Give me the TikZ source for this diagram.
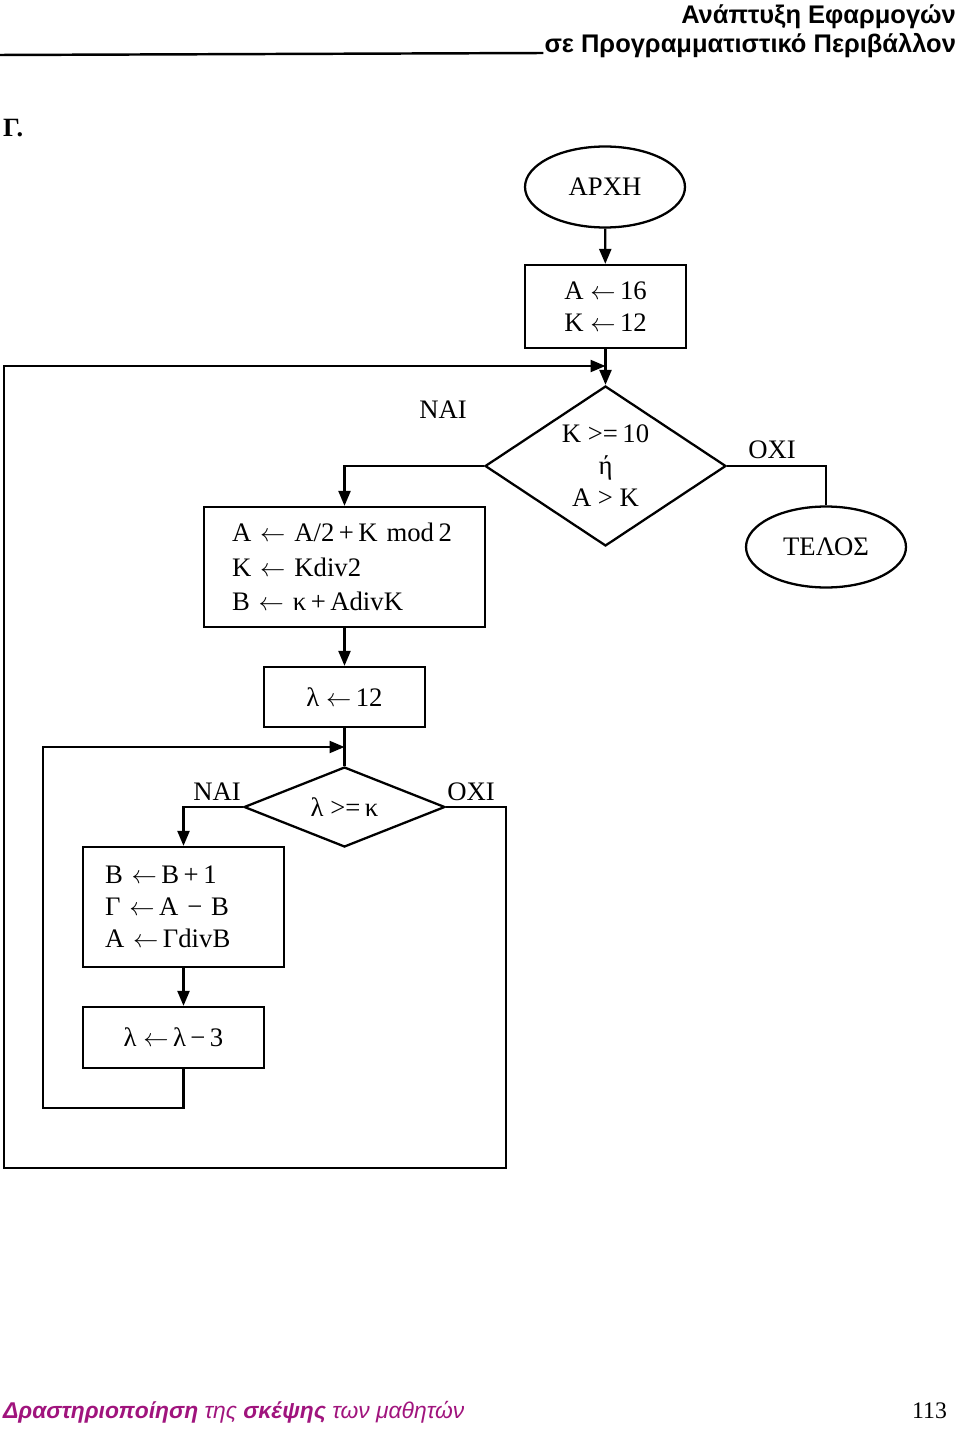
\documentclass[tikz,border=0pt]{standalone}
\usepackage{fontspec}
\setmainfont{Liberation Serif}
\newfontfamily\headfont{Liberation Sans}
\usetikzlibrary{shapes.geometric,arrows.meta}
\definecolor{footmag}{RGB}{160,20,125}
\newcommand{\assign}{$\leftarrow$}
\begin{document}
\begin{tikzpicture}[x=0.02cm,y=-0.02cm,
    line width=1.3pt,
    every node/.style={font=\fontsize{15.2}{18.2}\selectfont},
    term/.style={draw,ellipse,minimum width=3.2cm,minimum height=1.62cm,inner sep=0pt},
    box/.style={draw,rectangle,align=center,inner sep=0pt},
    cond/.style={draw,diamond,align=center,inner sep=0pt},
    page/.style={inner sep=0pt},
    arr/.style={-{Triangle[length=0.3cm,width=0.24cm]}}]
\useasboundingbox (0,0) rectangle (960,1429);
% page header
\node[page,anchor=base east,font=\headfont\bfseries\fontsize{14.5}{17}\selectfont] (head1) at (957,24) {Ανάπτυξη Εφαρμογών};
\node[page,anchor=base east,font=\headfont\bfseries\fontsize{14.5}{17}\selectfont] (head2) at (957,53) {σε Προγραμματιστικό Περιβάλλον};
\draw[line width=1.4pt] (0,55) -- (head2.base west);
\node[page,anchor=base west,font=\bfseries\fontsize{15}{18}\selectfont] (part) at (2,137) {Γ.};
% flowchart
\node[term] (start) at (605,187) {ΑΡΧΗ};
\node[box,minimum width=3.22cm,minimum height=1.66cm] (b1) at (605.5,306.5) {Α \assign\,16\\Κ \assign\,12};
\node[cond,minimum width=4.82cm,minimum height=3.2cm,aspect=1.5] (d1) at (605.5,466) {Κ >=\,10\\ή\\Α > Κ};
\node[term] (end) at (826,547) {ΤΕΛΟΣ};
\node[box,align=left,text width=4.5cm,inner xsep=0.56cm,minimum height=2.4cm,
      font=\fontsize{15.2}{19.5}\selectfont] (b2) at (344.5,567)
      {Α \assign\ Α/2\,+\,Κ mod\,2\\Κ \assign\ Κdiv2\\Β \assign\ κ\,+\,ΑdivΚ};
\node[box,minimum width=3.22cm,minimum height=1.2cm] (b3) at (344.5,697) {λ \assign\,12};
\node[cond,minimum width=4.02cm,minimum height=1.6cm,aspect=2.5] (d2) at (344.5,807) {λ >=\,κ};
\node[box,align=left,text width=3.14cm,inner xsep=0.44cm,minimum height=2.4cm] (b4) at (183.5,907)
      {Β \assign\,Β\,+\,1\\Γ \assign\,Α − Β\\Α \assign\,ΓdivΒ};
\node[box,minimum width=3.62cm,minimum height=1.22cm] (b5) at (173.5,1037.5) {λ \assign\,λ\,−\,3};
\node (yes1) at (443,410) {ΝΑΙ};
\node (no1) at (772,450) {ΟΧΙ};
\node (yes2) at (217,792) {ΝΑΙ};
\node (no2) at (471,792) {ΟΧΙ};
\coordinate (o1) at (506,1168);
\coordinate (o2) at (4,366);
\coordinate (i1) at (43,1108);
\coordinate (i2) at (43,747);
\draw[arr] (start) -- (b1);
\draw[arr] (b1) -- (d1);
\draw[arr] (d1.west) -| (b2.north);
\draw (d1.east) -| (end.north);
\draw[arr] (b2) -- (b3);
\draw (b3) -- (d2);
\draw[arr] (d2.west) -| (b4.north);
\draw[arr] (b4.south) -- (b4.south |- b5.north);
\draw[arr] (b4.south |- b5.south) |- (i1) -- (i2) -- (i2 -| d2.north);
\draw[arr] (d2.east) -| (o1) -| (o2) -- (o2 -| d1.north);
% page footer
\node[page,anchor=base west,text=footmag,font=\headfont\fontsize{13}{15}\selectfont] (foot) at (2,1418)
      {\bfseries\itshape Δραστηριοποίηση \mdseries της \bfseries σκέψης \mdseries των μαθητών};
\node[page,anchor=base east,font=\fontsize{13.5}{15}\selectfont] (pnum) at (948,1418) {113};
\end{tikzpicture}
\end{document}
